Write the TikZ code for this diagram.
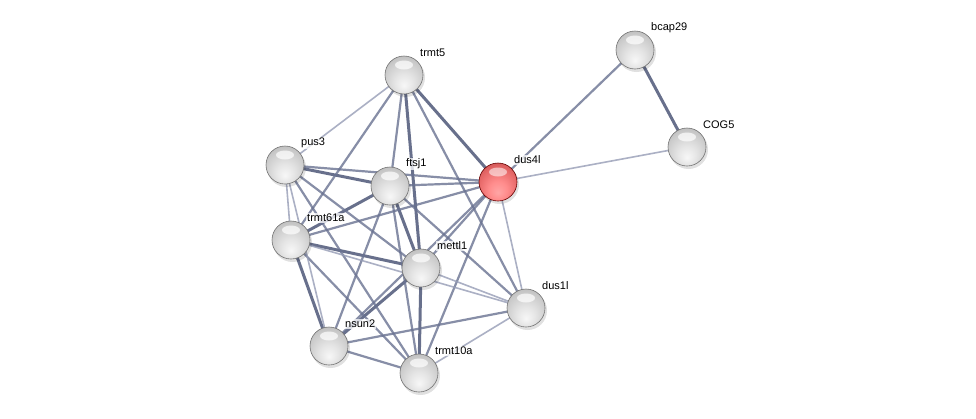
\documentclass[tikz,border=0pt]{standalone}
\usepackage{fontspec}
\setmainfont{Liberation Sans}
\usetikzlibrary{calc}
\pgfdeclareradialshading{strgrey}{\pgfpoint{0bp}{-14bp}}{color(0bp)=(white!97!black); color(12bp)=(white!90!black); color(26bp)=(white!80!black); color(38bp)=(white!70!black); color(50bp)=(white!55!black); color(56bp)=(white!40!black)}
\pgfdeclareradialshading{strred}{\pgfpoint{0bp}{-14bp}}{color(0bp)=(red!35!white); color(12bp)=(red!45!white); color(26bp)=(red!55!white!90!black); color(38bp)=(red!60!white!75!black); color(50bp)=(red!60!black); color(56bp)=(red!50!black)}
\definecolor{edgedark}{RGB}{78,88,120}
\definecolor{edgemid}{RGB}{105,114,145}
\definecolor{edgelight}{RGB}{150,157,182}
\tikzset{
  ball/.style={circle,minimum size=38pt,inner sep=0pt,draw=black!55,line width=0.6pt,shading=strgrey},
  redball/.style={ball,shading=strred,draw=red!40!black},
  lbl/.style={anchor=west,font=\fontsize{11}{13}\selectfont,fill=white,fill opacity=0.75,text opacity=1,inner sep=1pt},
  thk/.style={draw=edgedark,line width=3pt,opacity=0.85},
  med/.style={draw=edgemid,line width=2.2pt,opacity=0.8},
  lgt/.style={draw=edgelight,line width=1.6pt,opacity=0.8}
}
\begin{document}
\begin{tikzpicture}[x=1pt,y=-1pt]
\useasboundingbox[fill=white] (0,0) rectangle (976,418);
\foreach \n/\x/\y in {trmt5/404/75, bcap29/635/50, COG5/687/147, pus3/285/165, ftsj1/390/186, dus4l/498/182, trmt61a/291/240, mettl1/421/268, dus1l/526/308, nsun2/329/346, trmt10a/419/373}
  \coordinate (\n) at (\x,\y);
% edges
\foreach \a/\b in {trmt5/mettl1, trmt5/dus4l, pus3/ftsj1, ftsj1/trmt61a, ftsj1/mettl1, trmt61a/mettl1, trmt61a/nsun2, mettl1/nsun2, mettl1/trmt10a, bcap29/COG5}
  \draw[thk] (\a) -- (\b);
\foreach \a/\b in {trmt5/trmt61a, trmt5/ftsj1, trmt5/dus1l, pus3/dus4l, pus3/mettl1, pus3/trmt10a, ftsj1/dus4l, ftsj1/nsun2, ftsj1/trmt10a, ftsj1/dus1l, dus4l/trmt61a, dus4l/mettl1, dus4l/nsun2, dus4l/trmt10a, trmt61a/trmt10a, nsun2/trmt10a, nsun2/dus1l, dus4l/bcap29}
  \draw[med] (\a) -- (\b);
\foreach \a/\b in {trmt5/pus3, pus3/trmt61a, pus3/nsun2, dus4l/dus1l, trmt61a/dus1l, mettl1/dus1l, trmt10a/dus1l, dus4l/COG5}
  \draw[lgt] (\a) -- (\b);
% balls and labels
\foreach \n/\x/\y in {trmt5/404/75, bcap29/635/50, COG5/687/147, pus3/285/165, ftsj1/390/186, trmt61a/291/240, mettl1/421/268, dus1l/526/308, nsun2/329/346, trmt10a/419/373}{
  \fill[black,opacity=0.12] (\x+1.5,\y+2.5) circle (19.5pt);
  \node[ball] (b-\n) at (\x,\y) {};
  \fill[white,opacity=0.7] (\x,\y-10) ellipse (9pt and 4.5pt);
  \node[lbl] (l-\n) at (\x+15,\y-22) {\n};
}
\fill[black,opacity=0.12] (499.5,184.5) circle (19.5pt);
\node[redball] (b-dus4l) at (498,182) {};
\fill[white,opacity=0.55] (498,172) ellipse (9pt and 4.5pt);
\node[lbl] (l-dus4l) at (513,160) {dus4l};
\end{tikzpicture}
\end{document}
